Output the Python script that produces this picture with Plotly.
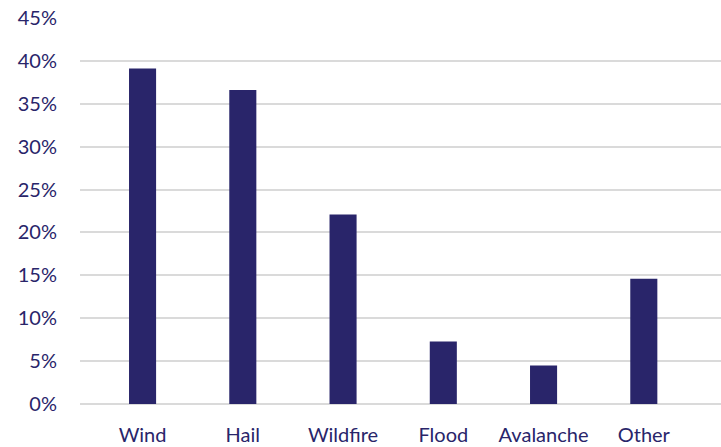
import plotly.graph_objects as go

categories = ["Wind", "Hail", "Wildfire", "Flood", "Avalanche", "Other"]
values = [39.1, 36.6, 22.1, 7.3, 4.5, 14.6]
y_ticks = [0, 5, 10, 15, 20, 25, 30, 35, 40, 45]
y_tick_labels = [f"{v}%" for v in y_ticks]

NAVY = "#29256a"
FONT = "Lato"

fig = go.Figure(
    go.Bar(
        x=categories,
        y=values,
        marker=dict(color=NAVY, line=dict(width=0)),
        width=0.27,
        hoverinfo="skip",
    )
)

fig.update_layout(
    width=721,
    height=447,
    margin=dict(l=80, r=0, t=18, b=43),
    paper_bgcolor="white",
    plot_bgcolor="white",
    showlegend=False,
    font=dict(family=FONT, size=20, color=NAVY),
)
fig.update_xaxes(
    type="category",
    range=[-0.624, 5.77],
    showgrid=False,
    showline=False,
    zeroline=False,
    ticks="",
    ticklabelstandoff=17,
    tickfont=dict(family=FONT, size=20, color=NAVY),
)
fig.update_yaxes(
    range=[0, 45],
    tickvals=y_ticks,
    ticktext=y_tick_labels,
    showgrid=True,
    gridcolor="#dadada",
    gridwidth=2,
    zeroline=True,
    zerolinecolor="#dadada",
    zerolinewidth=2,
    showline=False,
    ticks="",
    ticklabelstandoff=22,
    tickfont=dict(family=FONT, size=20, color=NAVY),
)

fig.write_html("out.html")
